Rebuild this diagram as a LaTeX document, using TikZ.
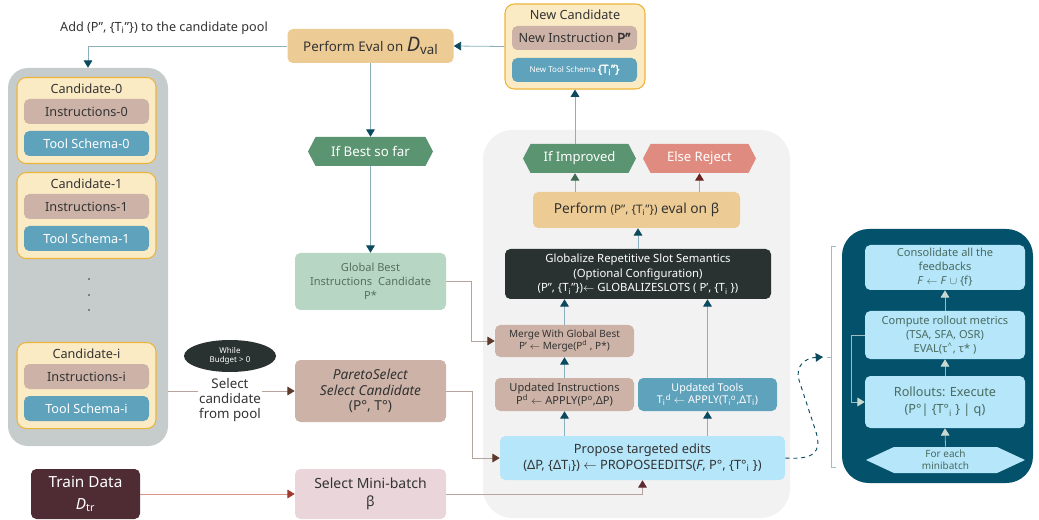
\documentclass[tikz,border=0pt]{standalone}
\usepackage{fontspec}
\setmainfont{Noto Sans}[AutoFakeBold=2.5]
\usetikzlibrary{arrows.meta,shapes.geometric,shapes.symbols}

\definecolor{evaltan}{HTML}{EDCB94}
\definecolor{candfill}{HTML}{FBEBC4}
\definecolor{candedge}{HTML}{EDB43A}
\definecolor{poolgray}{HTML}{C6CCCC}
\definecolor{instrbrown}{HTML}{CDB3A7}
\definecolor{toolblue}{HTML}{5FA2BC}
\definecolor{okgreen}{HTML}{5B9470}
\definecolor{rejectred}{HTML}{E08B80}
\definecolor{bestgreen}{HTML}{B7D6C3}
\definecolor{bestink}{HTML}{557060}
\definecolor{panelgray}{HTML}{F2F2F2}
\definecolor{darkslate}{HTML}{2A3131}
\definecolor{lightblue}{HTML}{B5E6F9}
\definecolor{deepteal}{HTML}{04516B}
\definecolor{panelink}{HTML}{4A6B60}
\definecolor{traindark}{HTML}{4F2C33}
\definecolor{batchpink}{HTML}{EAD6DA}
\definecolor{inkdark}{HTML}{333333}
\definecolor{linkteal}{HTML}{8AAFBD}
\definecolor{tipteal}{HTML}{0B4A5E}
\definecolor{linkbrown}{HTML}{B5A49C}
\definecolor{tipbrown}{HTML}{5B3A2C}
\definecolor{linkred}{HTML}{D9958C}
\definecolor{tipred}{HTML}{A33A2F}
\definecolor{tipgreen}{HTML}{3D6B50}
\definecolor{tipreject}{HTML}{6B2424}
\definecolor{tipmaroon}{HTML}{5E2B30}
\definecolor{linkpale}{HTML}{9DBCC3}
\definecolor{tippale}{HTML}{C9D9D2}

\tikzset{
  box/.style={rounded corners=4pt, align=center, inner sep=1pt, text=inkdark},
  sz/.style 2 args={minimum width=#1*0.75pt, minimum height=#2*0.75pt},
  candbox/.style={rounded corners=7pt, fill=candfill, draw=candedge, line width=0.8pt},
  hexbox/.style={shape=signal, signal to=west and east, signal pointer angle=125,
    align=center, inner sep=1pt, text=white},
  link/.style={line width=0.6pt, -{Triangle[width=6.5pt,length=5.5pt,color=#1]}},
  tealink/.style={link=tipteal, draw=linkteal},
  brownlink/.style={link=tipbrown, draw=linkbrown},
  redlink/.style={link=tipred, draw=linkred},
  palelink/.style={link=tippale, draw=linkpale},
  f6/.style={font=\fontsize{6}{7}\selectfont},
  f7/.style={font=\fontsize{7.5}{9}\selectfont},
  f8/.style={font=\fontsize{8.3}{10.5}\selectfont},
  f9/.style={font=\fontsize{9.5}{11.5}\selectfont},
}

\begin{document}
\begin{tikzpicture}[x=0.75pt,y=-0.75pt]
  \useasboundingbox (0,0) rectangle (1039,520);

  % backgrounds
  \node[rounded corners=15pt, fill=poolgray, sz={160}{378}] (pool) at (88,257) {};
  \node[rounded corners=22pt, fill=panelgray, sz={307}{388}] (midpanel) at (636.5,324) {};
  \node[rounded corners=20pt, fill=deepteal, sz={191}{254}] (rpanel) at (937.5,356) {};

  % candidate pool
  \foreach \k/\y in {0/77,1/172,i/342} {
    \node[f9, text=inkdark, candbox, sz={139}{86}, anchor=north] (cand\k) at (86.5,\y) {};
    \node[f9, text=inkdark] (candtitle\k) at (86.5,\y+12) {Candidate-\k};
    \node[box, f9, fill=instrbrown, sz={125}{25}] (instr\k) at (86.5,\y+34.5) {Instructions-\k};
    \node[box, f9, fill=toolblue, text=white, sz={125}{25}] (tool\k) at (86.5,\y+66.5) {Tool Schema-\k};
  }
  \foreach \y in {279,295,310} \fill[inkdark] (89,\y) circle (0.7pt);

  % new candidate
  \node[candbox, sz={140}{85}] (newcand) at (575,46.5) {};
  \node[f9, text=inkdark] (newtitle) at (575,15) {New Candidate};
  \node[box, f9, fill=instrbrown, sz={125}{24}] (newinstr) at (574.5,38)
    {New Instruction {\fontsize{10.5}{10}\selectfont\bfseries P”}};
  \node[box, f6, fill=toolblue, text=white, sz={125}{24}] (newtool) at (574.5,70)
    {New Tool Schema {\fontsize{8.5}{8}\selectfont\bfseries\{T\textsubscript{i}”\}}};

  % left column
  \node[f9, text=inkdark] (addlbl) at (164,28) {Add (P”, \{T\textsubscript{i}”\}) to the candidate pool};
  \node[box, fill=evaltan, sz={166}{34}, font=\fontsize{10}{12}\selectfont] (eval) at (370.5,46)
    {Perform Eval on {\fontsize{15}{15}\selectfont\itshape D}\raisebox{-0.5ex}{val}};
  \node[hexbox, fill=okgreen, sz={125}{29}, font=\fontsize{10}{12}\selectfont] (ifbest) at (370.5,151.5) {If Best so far};
  \node[box, f8, fill=bestgreen, text=bestink, sz={151}{57}] (globalbest) at (370.5,281.5)
    {Global Best\\Instructions~ Candidate\\P*};
  \node[ellipse, f6, fill=darkslate, text=white, align=center, inner sep=0pt, sz={92}{32}] (budget) at (230,356)
    {While\\Budget > 0};
  \node[box, fill=instrbrown, sz={151}{62}, font=\fontsize{10.3}{11.8}\selectfont] (pareto) at (370.5,391)
    {\textit{ParetoSelect}\\\textit{Select Candidate}\\(P°, T°)};
  \node[box, fill=traindark, text=white, sz={109}{50}, font=\fontsize{11.5}{16}\selectfont] (traindata) at (85.5,494)
    {Train Data\\\textit{D}\textsubscript{tr}};
  \node[box, fill=batchpink, sz={151}{50}, font=\fontsize{10.5}{13.5}\selectfont] (minibatch) at (370.5,494)
    {Select Mini-batch\\β};

  % middle panel
  \node[hexbox, sz={113}{29}, fill=okgreen, font=\fontsize{9.8}{12}\selectfont] (improved) at (579.5,158.5) {If Improved};
  \node[hexbox, sz={113}{29}, fill=rejectred, font=\fontsize{9.8}{12}\selectfont] (reject) at (699.5,158.5) {Else Reject};
  \node[box, fill=evaltan, sz={207}{36}, font=\fontsize{10.3}{12}\selectfont] (perfbeta) at (636.5,210)
    {Perform {\fontsize{8.8}{8}\selectfont(P”, \{T\textsubscript{i}”\})} eval on β};
  \node[box, fill=darkslate, text=white, sz={266}{50}, font=\fontsize{8.5}{11}\selectfont] (globalize) at (638,274)
    {Globalize Repetitive Slot Semantics\\(Optional Configuration)\\(P”, \{T\textsubscript{i}”\})$\leftarrow$ GLOBALIZESLOTS ( P’, \{T\textsubscript{i} \})};
  \node[box, f7, fill=instrbrown, sz={139}{32}] (merge) at (564.5,341)
    {Merge With Global Best\\P’ $\leftarrow$ Merge(P\textsuperscript{d} , P*)};
  \node[box, fill=instrbrown, sz={139}{33}, font=\fontsize{8.3}{9.5}\selectfont] (updinstr) at (564.5,394.5)
    {Updated Instructions\\P\textsuperscript{d} $\leftarrow$ APPLY(P\textsuperscript{o},ΔP)};
  \node[box, fill=toolblue, text=white, sz={139}{33}, font=\fontsize{8}{9.5}\selectfont] (updtools) at (707.5,394.5)
    {Updated Tools\\T\textsubscript{i}\textsuperscript{d} $\leftarrow$ APPLY(T\textsubscript{i}\textsuperscript{o},ΔT\textsubscript{i})};
  \node[box, fill=lightblue, sz={285}{44}, font=\fontsize{9.6}{12}\selectfont] (propose) at (642.5,458)
    {Propose targeted edits\\(ΔP, \{ΔT\textsubscript{i}\}) $\leftarrow$ PROPOSEEDITS(\textit{F}, P°, \{T°\textsubscript{i} \})};

  % right panel
  \node[box, f8, fill=lightblue, text=panelink, sz={160}{45}] (consol) at (945,267.5)
    {Consolidate all the\\feedbacks\\\textit{F} $\leftarrow$ \textit{F} $\cup$ \{f\}};
  \node[box, f8, fill=lightblue, text=panelink, sz={160}{48}] (compute) at (945,335)
    {Compute rollout metrics\\(TSA, SFA, OSR)\\EVAL(τ\textsuperscript{\textasciicircum}, τ* )};
  \node[box, fill=lightblue, text=panelink, sz={160}{52}, font=\fontsize{9.5}{12.5}\selectfont] (rollout) at (945,402)
    {Rollouts: Execute\\(P°| \{T°\textsubscript{i} \} | q)};
  \node[hexbox, f7, fill=lightblue, text=panelink, signal pointer angle=50, sz={159}{26}] (foreach) at (945.5,460)
    {For each\\minibatch};

  % connectors
  \draw[tealink] (newcand.west) -- (eval.east);
  \draw[tealink] (eval.west) -| (pool.north);
  \draw[tealink] (eval.south) -- (ifbest.north);
  \draw[tealink] (ifbest.south) -- (globalbest.north);
  \draw[brownlink] (globalbest.east) -- ++(25,0) |- (merge.west);
  \draw[brownlink] (pool.east |- pareto.west) -- (pareto.west);
  \node[fill=white, text=inkdark, align=center, inner sep=1pt, font=\fontsize{10}{11.6}\selectfont] (selectlbl) at (230,400) {Select\\candidate\\from pool};
  \draw[brownlink] (pareto.east) -- ++(26,0) |- (propose.west);
  \draw[redlink] (traindata.east) -- (minibatch.west);
  \draw[link=tipmaroon, draw=linkbrown] (minibatch.east) -| (propose.south);
  \draw[tealink] (updinstr.south |- propose.north) -- (updinstr.south);
  \draw[tealink] (updtools.south |- propose.north) -- (updtools.south);
  \draw[tealink] (updinstr.north) -- (merge.south);
  \draw[tealink] (merge.north) -- (merge.north |- globalize.south);
  \draw[tealink] (updtools.north) -- (updtools.north |- globalize.south);
  \draw[tealink] (globalize.north) -- (globalize.north |- perfbeta.south);
  \draw[link=tipgreen, draw=linkteal] (newcand.south |- perfbeta.north) -- (newcand.south |- improved.south);
  \draw[link=tipreject, draw=linkbrown] (reject.south |- perfbeta.north) -- (reject.south);
  \draw[tealink] (newcand.south |- improved.north) -- (newcand.south);

  \draw[palelink] (foreach.north) -- (rollout.south);
  \draw[palelink] (rollout.north) -- (compute.south);
  \draw[palelink] (compute.north) -- (consol.south);
  \draw[palelink] (compute.west) -- ++(-13,0) |- (rollout.west);

  % bracket and feedback loop
  \coordinate (bracemid) at (823,357);
  \draw[linkpale, line width=0.6pt] (836,246) -- (831,246) -- (831,467) -- (836,467);
  \draw[linkpale, line width=0.6pt] (831,357) -- (827,357);
  \draw[tipteal, dashed, line width=0.7pt, -{Triangle[width=6.5pt,length=5.5pt]}]
    (propose.east) .. controls (814,460) and (822,452) .. (816,432)
    -- (799,380) .. controls (795,366) and (805,358) .. (bracemid);
\end{tikzpicture}
\end{document}
